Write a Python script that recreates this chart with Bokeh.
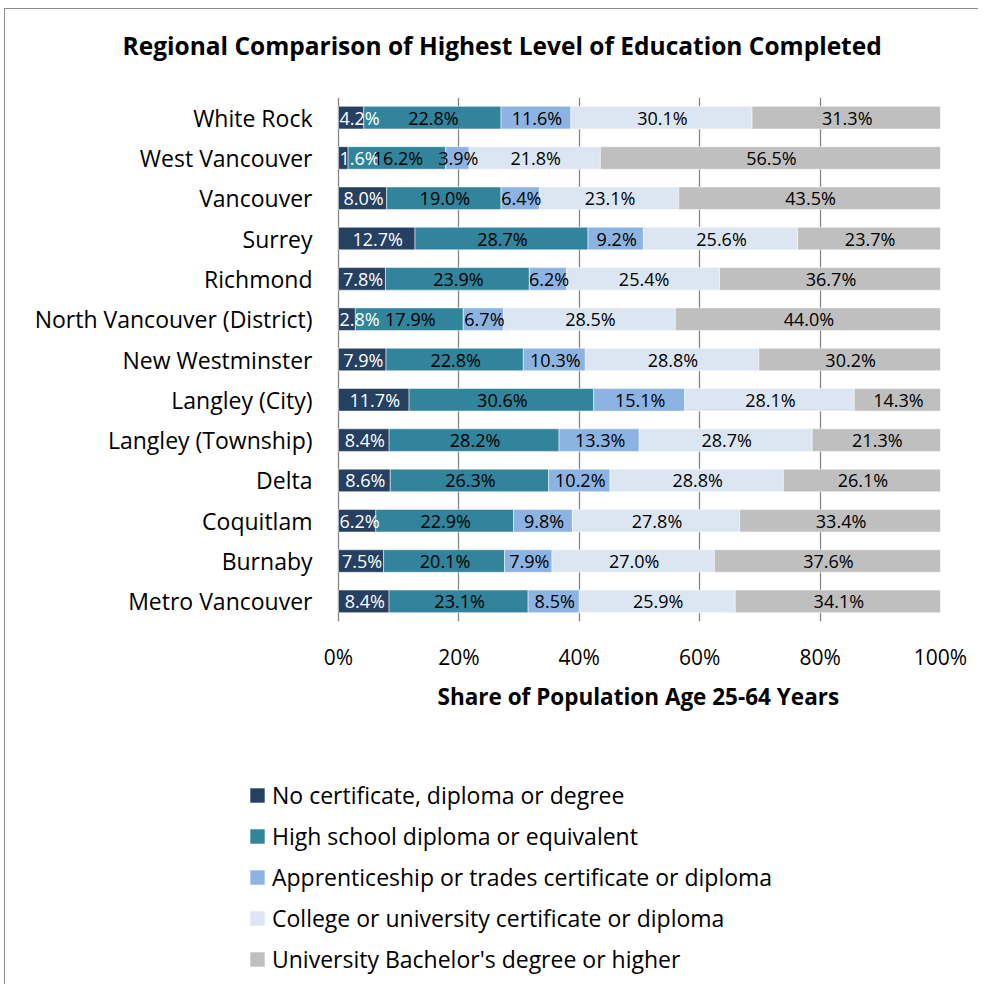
from bokeh.plotting import figure
from bokeh.models import (ColumnDataSource, LabelSet, Range1d, FactorRange, PrintfTickFormatter,
                          Legend, LegendItem)
from bokeh.layouts import column
from bokeh.core.properties import value
from bokeh.embed import file_html
from bokeh.resources import INLINE

regions = ["White Rock", "West Vancouver", "Vancouver", "Surrey", "Richmond",
           "North Vancouver (District)", "New Westminster", "Langley (City)",
           "Langley (Township)", "Delta", "Coquitlam", "Burnaby", "Metro Vancouver"]

no_cert = [4.2, 1.6, 8.0, 12.7, 7.8, 2.8, 7.9, 11.7, 8.4, 8.6, 6.2, 7.5, 8.4]
high_school = [22.8, 16.2, 19.0, 28.7, 23.9, 17.9, 22.8, 30.6, 28.2, 26.3, 22.9, 20.1, 23.1]
apprentice = [11.6, 3.9, 6.4, 9.2, 6.2, 6.7, 10.3, 15.1, 13.3, 10.2, 9.8, 7.9, 8.5]
college = [30.1, 21.8, 23.1, 25.6, 25.4, 28.5, 28.8, 28.1, 28.7, 28.8, 27.8, 27.0, 25.9]
bachelor = [31.3, 56.5, 43.5, 23.7, 36.7, 44.0, 30.2, 14.3, 21.3, 26.1, 33.4, 37.6, 34.1]

series_names = ["No certificate, diploma or degree",
                "High school diploma or equivalent",
                "Apprenticeship or trades certificate or diploma",
                "College or university certificate or diploma",
                "University Bachelor's degree or higher"]
series_colors = ["#254061", "#31849B", "#8DB3E2", "#DCE6F2", "#BFBFBF"]
label_colors = ["white", "black", "black", "black", "black"]
x_ticks = [0, 20, 40, 60, 80, 100]
x_title = "Share of Population Age 25-64 Years"

FONT = "Open Sans"
series = [no_cert, high_school, apprentice, college, bachelor]
keys = ["s0", "s1", "s2", "s3", "s4"]

NARROW = 7.0   # segments narrower than this (in %) get their label pinned to the 0% edge

data = {"region": regions}
totals = [sum(s[i] for s in series) for i in range(len(regions))]
cum = [0.0] * len(regions)
for j, (k, s) in enumerate(zip(keys, series)):
    norm = [s[i] / totals[i] * 100 for i in range(len(regions))]
    data[k] = norm
    mids, aligns = [], []
    for i in range(len(regions)):
        if j == 0 and norm[i] < NARROW:
            mids.append(0.0)
            aligns.append("left")
        else:
            mids.append(cum[i] + norm[i] / 2)
            aligns.append("center")
    data[k + "_mid"] = mids
    data[k + "_align"] = aligns
    data[k + "_txt"] = ["%.1f%%" % v for v in s]
    cum = [cum[i] + norm[i] for i in range(len(regions))]
source = ColumnDataSource(data)

# ---- geometry (pixels, relative to the chart's bordered box) ----
W = 973
FRAME_L = 243            # left edge of the shared plotting frame (legend column)
ZERO_GAP = 90            # distance from frame edge to the 0% line
BAR_W = 602              # pixel width of 0..100%
RIGHT = W - FRAME_L - ZERO_GAP - BAR_W
H_TITLE, H_MAIN, H_LEG = 88, 623, 264

x_start = -ZERO_GAP / BAR_W * 100

# ---- title strip ----
p0 = figure(width=W, height=H_TITLE, output_backend="svg", toolbar_location=None,
            x_range=Range1d(0, 1), y_range=Range1d(0, 1),
            min_border_left=FRAME_L, min_border_right=RIGHT, min_border_top=0, min_border_bottom=0)
p0.axis.visible = False
p0.grid.visible = False
p0.outline_line_color = None
p0.title.text = "Regional Comparison of Highest Level of Education Completed"
p0.title.text_font = FONT
p0.title.text_font_size = "24.5px"
p0.title.text_font_style = "bold"
p0.title.text_color = "black"
p0.title.align = "left"
p0.title.offset = -126
p0.title.standoff = 34

# ---- main chart ----
p = figure(width=W, height=H_MAIN, output_backend="svg", toolbar_location=None,
           title_location=None,
           y_range=FactorRange(factors=list(reversed(regions))),
           x_range=Range1d(x_start, 100),
           min_border_left=FRAME_L, min_border_right=RIGHT, min_border_top=0, min_border_bottom=99)

renderers = p.hbar_stack(keys, y="region", height=0.56, color=series_colors, source=source,
                         line_color="white", line_alpha=0.5, line_width=1)

for k, c in zip(keys, label_colors):
    p.add_layout(LabelSet(x=k + "_mid", y="region", text=k + "_txt", source=source,
                          text_align=k + "_align", text_baseline="middle", text_color=c,
                          x_offset=1, text_font=value(FONT), text_font_size="18px"))

p.xaxis.ticker = x_ticks
p.xaxis.bounds = (0, 100)
p.xaxis.formatter = PrintfTickFormatter(format="%d%%")
p.xaxis.axis_line_color = None
p.xaxis.major_tick_line_color = None
p.xaxis.minor_tick_line_color = None
p.xaxis.major_tick_out = 0
p.xaxis.major_tick_in = 0
p.xaxis.major_label_text_font = FONT
p.xaxis.major_label_text_font_size = "21px"
p.xaxis.major_label_text_color = "black"
p.xaxis.major_label_standoff = 21
# leading no-break spaces re-centre the title over the 0-100% span
p.xaxis.axis_label = "\u00a0" * 15 + x_title
p.xaxis.axis_label_text_font = FONT
p.xaxis.axis_label_text_font_size = "22.5px"
p.xaxis.axis_label_text_font_style = "bold"
p.xaxis.axis_label_text_color = "black"
p.xaxis.axis_label_standoff = 7

p.yaxis.axis_line_color = None
p.yaxis.major_tick_line_color = None
p.yaxis.minor_tick_line_color = None
p.yaxis.major_tick_out = 0
p.yaxis.major_tick_in = 0
p.yaxis.major_label_text_font = FONT
p.yaxis.major_label_text_font_size = "23px"
p.yaxis.major_label_text_color = "black"
p.yaxis.major_label_standoff = 26 - ZERO_GAP

p.xgrid.grid_line_color = "#868686"
p.xgrid.grid_line_width = 1.3
p.xgrid.ticker = x_ticks
p.ygrid.grid_line_color = None
p.outline_line_color = None

# ---- legend strip ----
leg_source = ColumnDataSource({"cat": ["legend"], **{k: [0.0] for k in keys}})
p2 = figure(width=W, height=H_LEG, output_backend="svg", toolbar_location=None,
            title_location=None,
            x_range=Range1d(0, 1), y_range=FactorRange(factors=["legend"]),
            min_border_left=FRAME_L, min_border_right=RIGHT, min_border_top=0, min_border_bottom=0)
p2.axis.visible = False
p2.grid.visible = False
p2.outline_line_color = None
leg_renderers = p2.hbar_stack(keys, y="cat", height=0.5, color=series_colors, source=leg_source,
                              line_color=None)
legend = Legend(items=[LegendItem(label=n, renderers=[r]) for n, r in zip(series_names, leg_renderers)],
                location=(0, 9), orientation="vertical",
                glyph_width=18, glyph_height=18, label_standoff=6, spacing=9,
                label_text_font=FONT, label_text_font_size="23px", label_text_color="black",
                label_height=20,
                padding=0, margin=0, border_line_color=None, background_fill_alpha=0)
p2.add_layout(legend, "center")

layout = column(p0, p, p2, spacing=0,
                styles={"margin-left": "4px", "margin-top": "8px",
                        "border-left": "1px solid #8c8c8c", "border-top": "1px solid #8c8c8c"})

open("out.html", "w").write(file_html(layout, INLINE))
